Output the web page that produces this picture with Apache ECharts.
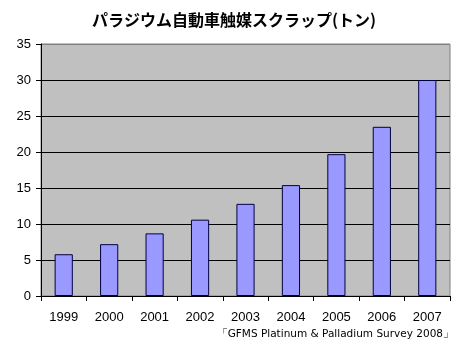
<!DOCTYPE html>
<html>
<head>
<meta charset="utf-8">
<script src="https://cdn.jsdelivr.net/npm/echarts@6/dist/echarts.min.js"></script>
<style>
  html, body { margin: 0; padding: 0; background: #fff; }
  #chart { width: 460px; height: 342px; }
</style>
</head>
<body>
<div id="chart"></div>
<script>
// Palladium autocatalyst scrap, tonnes per year
const years = ['1999', '2000', '2001', '2002', '2003', '2004', '2005', '2006', '2007'];
const scrapTonnes = [5.8, 7.2, 8.7, 10.6, 12.8, 15.4, 19.7, 23.5, 30.0];
const yTicks = [0, 5, 10, 15, 20, 25, 30, 35];

const chart = echarts.init(document.getElementById('chart'), null, { renderer: 'canvas' });

const axisFont = { fontFamily: 'Liberation Sans, Arial, sans-serif', fontSize: 13, color: '#000' };

chart.setOption({
  backgroundColor: '#ffffff',
  animation: false,
  title: {
    text: 'パラジウム自動車触媒スクラップ(トン)',
    left: 229,
    textAlign: 'center',
    top: 7,
    textStyle: {
      fontFamily: 'Noto Sans CJK JP, sans-serif',
      fontSize: 16,
      fontWeight: 'bold',
      color: '#000'
    }
  },
  graphic: [{
    type: 'text',
    right: 6,
    top: 329,
    style: {
      text: '「GFMS Platinum & Palladium Survey 2008」',
      fontFamily: 'DejaVu Sans, Verdana, sans-serif',
      fontSize: 10.5,
      fill: '#000'
    }
  }],
  grid: {
    left: 41,
    right: 10,
    top: 44,
    bottom: 46,
    show: true,
    backgroundColor: '#c0c0c0',
    borderColor: '#808080',
    borderWidth: 1
  },
  xAxis: {
    type: 'category',
    data: years,
    axisLine: { show: true, lineStyle: { color: '#000', width: 1 } },
    axisTick: { show: true, alignWithLabel: false, length: 5, lineStyle: { color: '#000' } },
    axisLabel: Object.assign({ margin: 15 }, axisFont),
    splitLine: { show: false }
  },
  yAxis: {
    type: 'value',
    min: yTicks[0],
    max: yTicks[yTicks.length - 1],
    interval: yTicks[1] - yTicks[0],
    axisLine: { show: true, lineStyle: { color: '#000', width: 1 } },
    axisTick: { show: true, length: 5, lineStyle: { color: '#000' } },
    axisLabel: Object.assign({ margin: 10 }, axisFont),
    splitLine: {
      show: true,
      lineStyle: {
        color: ['#000', '#000', '#000', '#000', '#000', '#000', '#000', '#808080'],
        width: 1
      }
    }
  },
  series: [{
    type: 'bar',
    data: scrapTonnes,
    barWidth: '40%',
    itemStyle: {
      color: '#9999ff',
      borderColor: '#000040',
      borderWidth: 1
    }
  }]
});
</script>
</body>
</html>
